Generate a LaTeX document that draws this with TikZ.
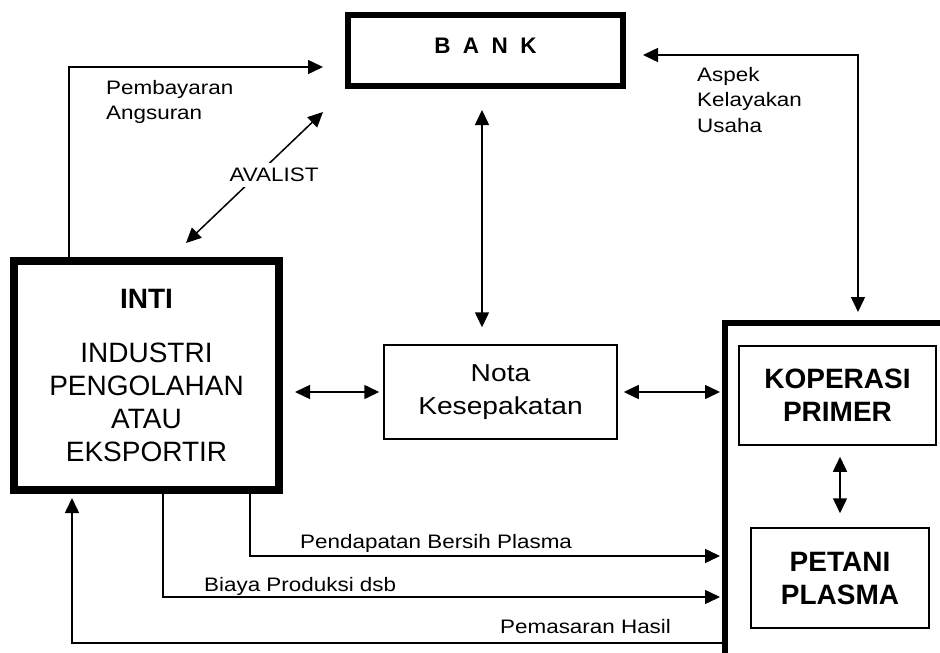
\documentclass[tikz,border=0pt]{standalone}
\usepackage{fontspec}
\setmainfont{Liberation Sans}
\newfontfamily\widefont{Liberation Sans}[FakeStretch=1.15]
\usetikzlibrary{arrows.meta}

\tikzset{>={Triangle[length=15pt,width=14pt]},
 thinbox/.style={draw,line width=1.5pt,align=center},
 heavybox/.style={draw,line width=#1,align=center},
 bigtext/.style={font=\fontsize{28}{33}\selectfont},
 boldtext/.style={font=\bfseries\fontsize{28}{33}\selectfont},
 lbl/.style={font=\widefont\fontsize{19.5}{25.5}\selectfont,
     inner sep=0pt,align=left},
 link/.style={line width=1.5pt,->},
 link2/.style={line width=1.5pt,<->}}

\begin{document}
\begin{tikzpicture}[x=1pt,y=-1pt]
 \path[use as bounding box,clip] (0,0) rectangle (940,653);
 \node[heavybox=6pt,minimum width=275pt,minimum height=71pt,
     text depth=10pt,font=\bfseries\fontsize{22.5}{25}\selectfont]
     (bank) at (485.5,50.5) {\spaceskip=12.5pt B A N K};
 \node[heavybox=8pt,minimum width=265pt,minimum height=229pt,bigtext]
     (inti) at (146.5,375.5)
     {\textbf{INTI}\\[21pt] INDUSTRI\\PENGOLAHAN\\ATAU\\EKSPORTIR};
 \node[thinbox,minimum width=233pt,minimum height=94pt,
     font=\widefont\fontsize{24.5}{33}\selectfont]
     (nota) at (500.5,392) {Nota\\Kesepakatan};
 \node[heavybox=6pt,minimum width=240pt,minimum height=340pt]
     (plasma) at (845,493) {};
 \node[thinbox,minimum width=197pt,minimum height=99pt,boldtext]
     (kop) at (837.5,395.5) {KOPERASI\\PRIMER};
 \node[thinbox,minimum width=178pt,minimum height=100pt,boldtext]
     (petani) at (840,578) {PETANI\\PLASMA};
 % links to the bank
 \draw[link,shorten >=22pt] ([xshift=59pt]inti.north west)
     |- ([yshift=-16.5pt]bank.west);
 \node[lbl,anchor=north west] (angsuran) at (106,80)
     {Pembayaran\\Angsuran};
 \coordinate (avA) at (186,243);
 \coordinate (avB) at (323,112);
 \draw[link2] (avA) -- (avB);
 \node[lbl,fill=white,inner sep=5pt] (avalist) at (274,175) {AVALIST};
 \draw[link2,shorten <=17pt,shorten >=8pt] ([yshift=-4.5pt]bank.east)
     -| ([xshift=13pt]plasma.north);
 \node[lbl,anchor=north west] (aspek) at (697,67)
     {Aspek\\Kelayakan\\Usaha};
 \draw[link2,shorten <=21pt,shorten >=17pt] ([xshift=-3.5pt]bank.south)
     -- ([xshift=-3.5pt]bank.south |- nota.north);
 % nota kesepakatan
 \draw[link2,shorten <=12pt,shorten >=4pt] ([yshift=-16.5pt]inti.east)
     -- ([yshift=-16.5pt]inti.east -| nota.west);
 \draw[link2,shorten <=6pt,shorten >=2pt] (nota.east)
     -- (nota.east -| plasma.west);
 \draw[link2,shorten <=11pt,shorten >=14pt] ([xshift=2.5pt]kop.south)
     -- ([xshift=2.5pt]kop.south |- petani.north);
 % flows below
 \draw[link,shorten >=2pt] ([xshift=240pt]inti.south west)
     |- (plasma.west |- 0,556);
 \node[lbl,anchor=base west] (bersih) at (300,548)
     {Pendapatan Bersih Plasma};
 \draw[link,shorten >=2pt] ([xshift=153pt]inti.south west)
     |- (plasma.west |- 0,597);
 \node[lbl,anchor=base west] (biaya) at (204,591)
     {Biaya Produksi dsb};
 \draw[link,shorten >=4pt] (plasma.west |- 0,643)
     -| ([xshift=62pt]inti.south west);
 \node[lbl,anchor=base west] (hasil) at (500,633) {Pemasaran Hasil};
\end{tikzpicture}
\end{document}
